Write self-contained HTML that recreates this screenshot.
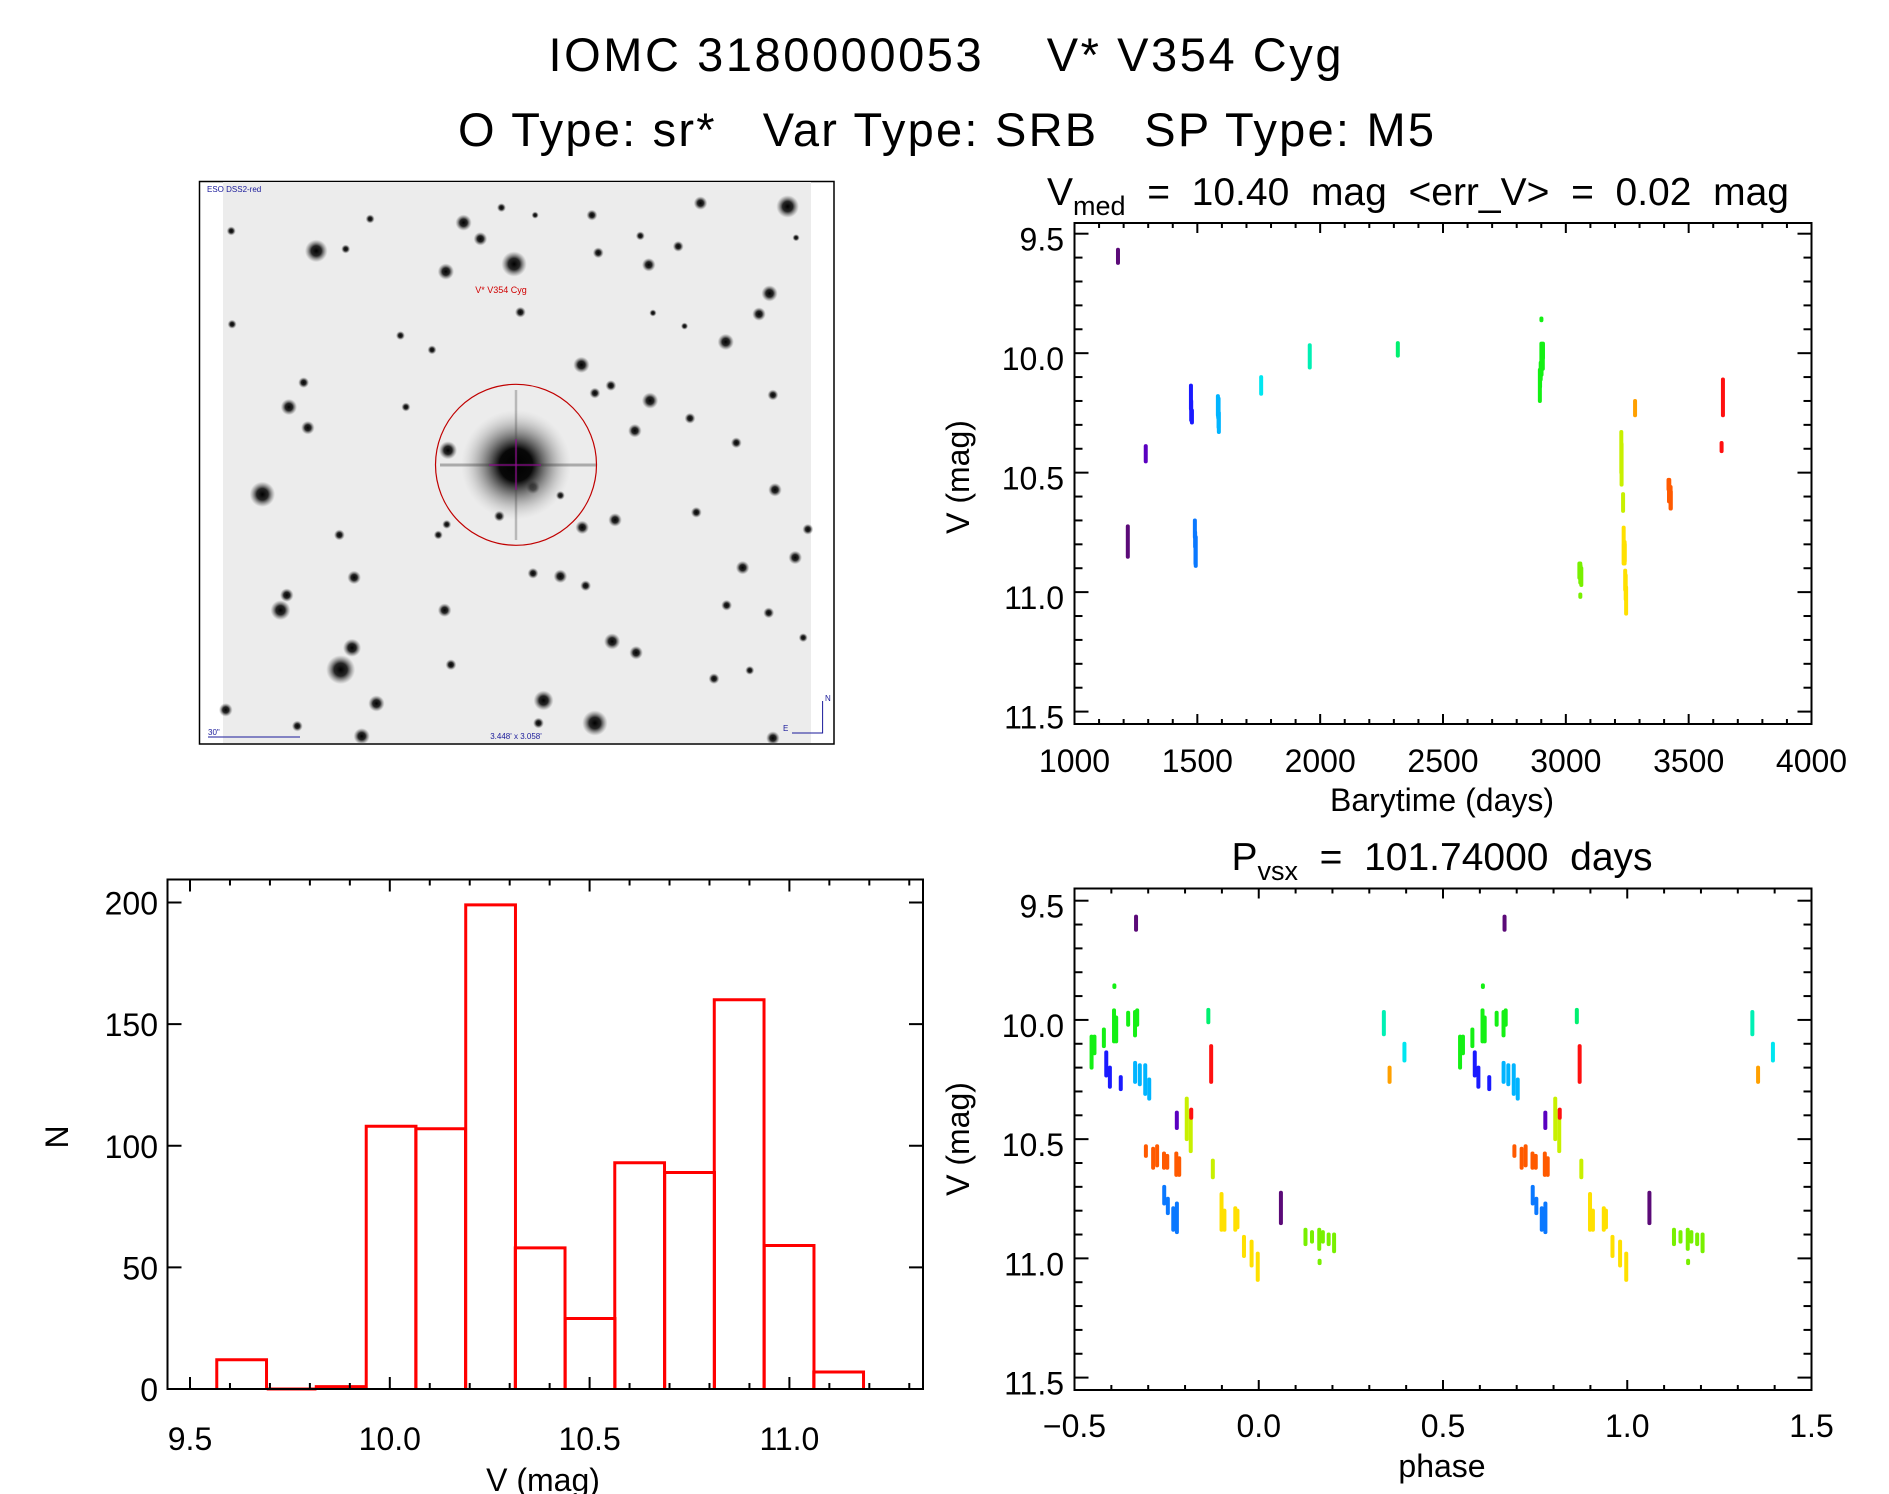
<!DOCTYPE html>
<html><head><meta charset="utf-8"><style>
html,body{margin:0;padding:0;background:#fff;}
svg{display:block;font-family:"Liberation Sans",sans-serif;}
text{white-space:pre;}
</style></head><body>
<svg id="fig" width="1889" height="1494" viewBox="0 0 1889 1494" xmlns="http://www.w3.org/2000/svg" xml:space="preserve">
<defs>
<radialGradient id="starg"><stop offset="0" stop-color="#000" stop-opacity="1"/><stop offset="0.45" stop-color="#111" stop-opacity="0.9"/><stop offset="1" stop-color="#666" stop-opacity="0"/></radialGradient>
<radialGradient id="bigg"><stop offset="0" stop-color="#000"/><stop offset="0.3" stop-color="#080808"/><stop offset="0.55" stop-color="#555" stop-opacity="0.7"/><stop offset="1" stop-color="#bbb" stop-opacity="0"/></radialGradient>
</defs>
<text x="945" y="71" font-size="47" text-anchor="middle" textLength="793">IOMC 3180000053    V* V354 Cyg</text>
<text x="946" y="146" font-size="47" text-anchor="middle" textLength="976">O Type: sr*   Var Type: SRB   SP Type: M5</text>

<g id="img">
<rect x="199.5" y="181.5" width="634.5" height="562.5" fill="#fff" stroke="#000" stroke-width="1.5"/>
<rect x="223" y="182" width="588" height="561" fill="#ececec"/>
<g id="stars"></g>
<circle cx="516" cy="464.8" r="55" fill="url(#bigg)"/>
<line x1="440" y1="465" x2="596" y2="465" stroke="#333" stroke-width="3" opacity="0.35"/>
<line x1="516" y1="390" x2="516" y2="540" stroke="#444" stroke-width="2.5" opacity="0.3"/>
<circle cx="516" cy="464.8" r="80.5" fill="none" stroke="#c00000" stroke-width="1.2"/>
<line x1="516" y1="439" x2="516" y2="490" stroke="#a000a0" stroke-width="1"/>
<line x1="489" y1="465" x2="541" y2="465" stroke="#a000a0" stroke-width="1"/>
<text x="207" y="192" font-size="8" fill="#1a1a9a">ESO DSS2-red</text>
<text x="501" y="293" font-size="9" fill="#d00000" text-anchor="middle">V* V354 Cyg</text>
<text x="516" y="739" font-size="8" fill="#1a1a9a" text-anchor="middle">3.448' x 3.058'</text>
<text x="208" y="735" font-size="8" fill="#1a1a9a">30"</text>
<line x1="208" y1="737" x2="300" y2="737" stroke="#1a1a9a" stroke-width="1"/>
<polyline points="822.6,701 822.6,733 792,733" fill="none" stroke="#1a1a9a" stroke-width="1"/>
<text x="825" y="701" font-size="8" fill="#1a1a9a">N</text>
<text x="783" y="731" font-size="8" fill="#1a1a9a">E</text>
</g>

<g id="lc"></g>
<g id="hist"></g>
<g id="ph"></g>
</svg>
<script>
// ---------- data ----------
const seasonColors = ["#5b0a78","#5a00c0","#1a1aff","#0a78ff","#00b4ff","#00e6f0","#00f0b4","#00f070","#14f014","#78f000","#c8f000","#ffe000","#ffa000","#ff5a00","#ff1010"];
const nightT  = [1177,1217,1290,1474,1475,1478,1490,1491,1492.5,1493.5,1583.7,1585,1586.5,1587.6,1759.8,1957.6,2316.1,2894.3,2895.1,2897.7,2900.5,2900.6,2901.1,2904.4,2906.3,2906.9,3055.1,3056.9,3058.9,3059.0,3059.9,3061.5,3063,3225.8,3226.9,3233.0,3235.4,3236.2,3239.2,3239.8,3241.6,3243.7,3245.4,3281.8,3418.0,3420.0,3421.1,3423.0,3423.9,3426.4,3427.2,3634.0,3639.5];
const nightLo = [9.567,10.725,10.389,10.136,10.20,10.24,10.70,10.75,10.79,10.77,10.18,10.19,10.19,10.25,10.10,9.967,9.958,10.07,10.07,10.04,9.96,9.855,9.99,9.97,9.967,9.96,10.88,10.89,10.88,11.01,10.89,10.90,10.90,10.33,10.38,10.59,10.73,10.80,10.79,10.80,10.91,10.93,10.98,10.20,10.53,10.54,10.53,10.56,10.57,10.56,10.58,10.376,10.11];
const nightHi = [9.622,10.852,10.453,10.233,10.28,10.29,10.77,10.81,10.88,10.89,10.26,10.27,10.31,10.33,10.17,10.06,10.01,10.20,10.14,10.11,10.09,9.862,10.09,10.02,10.065,10.02,10.94,10.93,10.96,11.02,10.93,10.94,10.97,10.50,10.55,10.66,10.88,10.88,10.88,10.87,10.99,11.03,11.09,10.26,10.57,10.62,10.61,10.62,10.62,10.65,10.65,10.41,10.26];
const nightSeason = [0,0,1,2,2,2,3,3,3,3,4,4,4,4,5,6,7,8,8,8,8,8,8,8,8,8,9,9,9,9,9,9,9,10,10,10,11,11,11,11,11,11,11,12,13,13,13,13,13,13,13,14,14];
const period = 101.74;
const epochT = 1177, epochPhase = -0.333;
const binLo = [9.567,9.692,9.816,9.941,10.065,10.19,10.314,10.439,10.563,10.688,10.812,10.937,11.061];
const binCounts = [12,0,1,108,107,199,58,29,93,89,160,59,7];
const binWidth = 0.1245;
const lcXTicks = [1000,1500,2000,2500,3000,3500,4000];
const magTicks = [9.5,10.0,10.5,11.0,11.5];
const histXTicks = [9.5,10.0,10.5,11.0];
const histYTicks = [0,50,100,150,200];
const phXTicks = [-0.5,0.0,0.5,1.0,1.5];
const phXLabels = ["\u22120.5","0.0","0.5","1.0","1.5"];
const stars = [[1420,97,25],[300,215,25],[770,250,28],[650,140,18],[690,183,15],[608,270,18],[1213,88,15],[1377,328,18],[1352,383,15],[1273,457,18],[1090,252,15],[1160,203,12],[970,220,12],[955,120,12],[930,518,18],[1093,613,18],[962,593,12],[1000,573,12],[235,630,18],[280,685,15],[172,862,28],[613,745,20],[815,843,15],[880,865,10],[1057,693,15],[1188,660,12],[1298,725,12],[1390,850,15],[1385,598,12],[1203,910,12],[1010,930,15],[932,950,15],[1468,955,12],[1438,1030,15],[1313,1057,15],[1275,1157,12],[1375,1177,12],[1003,1253,18],[1060,1283,15],[1245,1352,12],[1330,1330,10],[1457,1243,10],[840,1410,22],[962,1470,28],[828,1470,12],[408,1505,18],[443,1418,18],[358,1328,32],[385,1270,20],[215,1170,22],[230,1130,15],[390,1083,15],[355,970,12],[605,1170,15],[880,1080,15],[940,1105,12],[815,1072,12],[620,1315,12],[1385,1510,15],[735,920,12],[610,942,10],[590,970,10],[513,630,10],[575,478,10],[500,440,10],[785,378,12],[428,130,10],[370,210,10],[270,565,12],[98,162,10],[85,1435,15],[255,1478,12],[1070,175,10],[1100,380,8],[1175,415,8],[740,100,10],[820,120,8],[1440,180,8],[100,410,10]];

const NS="http://www.w3.org/2000/svg";
function mk(parent,tag,attrs,text){const e=document.createElementNS(NS,tag);for(const k in attrs)e.setAttribute(k,attrs[k]);if(text!==undefined)e.textContent=text;parent.appendChild(e);return e;}

// stars
const sg=document.getElementById('stars');
stars.forEach(s=>{const c=mk(sg,'circle',{cx:s[0]/2.376+190,cy:s[1]/2.658+170,r:s[2]/2.2,fill:'url(#starg)'});

});

const FS=32;
function frame(g,L,R,T,B){const r=mk(g,'rect',{x:L,y:T,width:R-L,height:B-T,fill:'none',stroke:'#000','stroke-width':2});

}
function tick(g,x1,y1,x2,y2){mk(g,'line',{x1,y1,x2,y2,stroke:'#000','stroke-width':2});}

// ---------- light curve ----------
const LC={L:1074.5,R:1811.5,T:223,B:724};
const xT=t=>LC.L+(t-1000)/3000*(LC.R-LC.L);
const yM=v=>233.7+(v-9.5)/2*477.9;
(function(){
const g=document.getElementById('lc');
frame(g,LC.L,LC.R,LC.T,LC.B);
for(let t=1000;t<=4000;t+=100){const x=xT(t);const maj=(t%500===0);const l=maj?10:5;tick(g,x,LC.B,x,LC.B-l);tick(g,x,LC.T,x,LC.T+l);}
for(let i=0;i<=20;i++){const v=9.5+i*0.1;const y=yM(v);const maj=(i%5===0);const l=maj?14:8;tick(g,LC.L,y,LC.L+l,y);tick(g,LC.R,y,LC.R-l,y);}
lcXTicks.forEach(t=>{const e=mk(g,'text',{x:xT(t),y:772,'font-size':FS,'text-anchor':'middle'},String(t));

});
magTicks.forEach(v=>{const e=mk(g,'text',{x:1064,y:yM(v)+17,'font-size':FS,'text-anchor':'end'},v.toFixed(1));

});
const xl=mk(g,'text',{x:1442,y:811,'font-size':FS,'text-anchor':'middle'},'Barytime (days)');


const yl=mk(g,'text',{x:0,y:0,'font-size':FS,'text-anchor':'middle',transform:'translate(969,477) rotate(-90)'},'V (mag)');


const tt=mk(g,'text',{x:1418,y:205,'font-size':39,'text-anchor':'middle'});


mk(tt,'tspan',{},'V');mk(tt,'tspan',{'font-size':27,dy:10},'med');mk(tt,'tspan',{dy:-10},'  =  10.40  mag  <err_V>  =  0.02  mag');
nightT.forEach((t,i)=>{const y1=yM(nightLo[i]),y2=yM(nightHi[i]);
const r=mk(g,'rect',{x:xT(t)-2,y:y1-2,width:4,height:y2-y1+4,rx:2,fill:seasonColors[nightSeason[i]]});

});
})();

// ---------- histogram ----------
const H={L:167.5,R:923,T:879.5,B:1389};
const xH=v=>190+(v-9.5)/0.5*199.8;
const yH=n=>H.B-n/200*486.5;
(function(){
const g=document.getElementById('hist');
binLo.forEach((lo,i)=>{const x1=xH(lo),x2=xH(lo+binWidth),y=yH(binCounts[i]);
const p=mk(g,'polyline',{points:`${x1},${H.B} ${x1},${y} ${x2},${y} ${x2},${H.B}`,fill:'none',stroke:'#ff0000','stroke-width':3});

});
frame(g,H.L,H.R,H.T,H.B);
for(let i=0;i<=18;i++){const v=9.5+i*0.1;const x=xH(v);if(x>H.R)break;const maj=(i%5===0);const l=maj?12:6;tick(g,x,H.B,x,H.B-l);tick(g,x,H.T,x,H.T+l);}
histYTicks.forEach(n=>{const y=yH(n);tick(g,H.L,y,H.L+14,y);tick(g,H.R,y,H.R-14,y);
const e=mk(g,'text',{x:158,y:y+12,'font-size':FS,'text-anchor':'end'},String(n));

});
histXTicks.forEach(v=>{const e=mk(g,'text',{x:xH(v),y:1450,'font-size':FS,'text-anchor':'middle'},v.toFixed(1));

});
const xl=mk(g,'text',{x:543,y:1491,'font-size':FS,'text-anchor':'middle'},'V (mag)');


const yl=mk(g,'text',{x:0,y:0,'font-size':FS,'text-anchor':'middle',transform:'translate(68,1137) rotate(-90)'},'N');


})();

// ---------- phase plot ----------
const P={L:1074.5,R:1811.5,T:888.5,B:1390};
const xP=p=>P.L+(p+0.5)/2*(P.R-P.L);
const yP=v=>900.7+(v-9.5)/2*476.9;
(function(){
const g=document.getElementById('ph');
frame(g,P.L,P.R,P.T,P.B);
for(let i=0;i<=20;i++){const x=xP(-0.5+i*0.1);const maj=(i%5===0);const l=maj?10:5;tick(g,x,P.B,x,P.B-l);tick(g,x,P.T,x,P.T+l);}
for(let i=0;i<=20;i++){const y=yP(9.5+i*0.1);if(y>P.B)break;const maj=(i%5===0);const l=maj?14:8;tick(g,P.L,y,P.L+l,y);tick(g,P.R,y,P.R-l,y);}
phXTicks.forEach((p,i)=>{const e=mk(g,'text',{x:xP(p),y:1437,'font-size':FS,'text-anchor':'middle'},phXLabels[i]);

});
magTicks.forEach(v=>{const e=mk(g,'text',{x:1064,y:yP(v)+17,'font-size':FS,'text-anchor':'end'},v.toFixed(1));

});
const xl=mk(g,'text',{x:1442,y:1477,'font-size':FS,'text-anchor':'middle'},'phase');


const yl=mk(g,'text',{x:0,y:0,'font-size':FS,'text-anchor':'middle',transform:'translate(969,1139) rotate(-90)'},'V (mag)');


const tt=mk(g,'text',{x:1442,y:870,'font-size':39,'text-anchor':'middle'});


mk(tt,'tspan',{},'P');mk(tt,'tspan',{'font-size':27,dy:10},'vsx');mk(tt,'tspan',{dy:-10},'  =  101.74000  days');
nightT.forEach((t,i)=>{let ph=(t-epochT)/period+epochPhase;ph=ph-Math.floor(ph+0.5);
const y1=yP(nightLo[i]),y2=yP(nightHi[i]);
[ph,ph+1].forEach(pp=>{const r=mk(g,'rect',{x:xP(pp)-2,y:y1-2,width:4,height:y2-y1+4,rx:2,fill:seasonColors[nightSeason[i]]});

});});
})();
</script>
</body></html>
